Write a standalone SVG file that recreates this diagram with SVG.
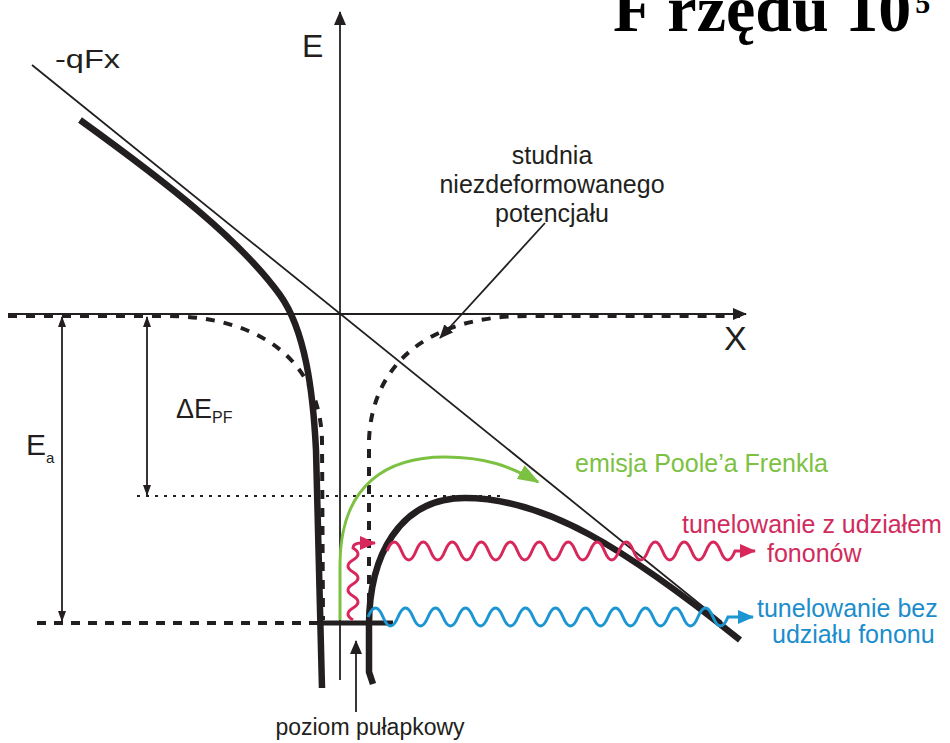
<svg xmlns="http://www.w3.org/2000/svg" width="950" height="743" viewBox="0 0 950 743">
<style>
text{font-family:"Liberation Sans","DejaVu Sans",Arial,sans-serif;fill:#231f20}
.thin{fill:none;stroke:#231f20;stroke-width:1.8}
.thick{fill:none;stroke:#231f20;stroke-width:6.5;stroke-linecap:butt;stroke-linejoin:round}
.dash{fill:none;stroke:#231f20;stroke-width:4;stroke-dasharray:9 9}
.dot{fill:none;stroke:#231f20;stroke-width:1.8;stroke-dasharray:3 6}
.g{fill:none;stroke:#7cc142;stroke-width:3}
.r{fill:none;stroke:#d7275b;stroke-width:3}
.b{fill:none;stroke:#1b96d3;stroke-width:3}
</style>
<defs>
<marker id="ah" markerUnits="userSpaceOnUse" markerWidth="14" markerHeight="12" refX="13" refY="6" orient="auto"><path d="M0,0 L14,6 L0,12 z" fill="#231f20"/></marker>
<marker id="ahs" markerUnits="userSpaceOnUse" markerWidth="11" markerHeight="8" refX="10" refY="4" orient="auto-start-reverse"><path d="M0,0 L11,4 L0,8 z" fill="#231f20"/></marker>
<marker id="ahg" markerUnits="userSpaceOnUse" markerWidth="22" markerHeight="16" refX="20" refY="8" orient="auto"><path d="M0,0 L22,8 L0,16 z" fill="#7cc142"/></marker>
<marker id="ahr" markerUnits="userSpaceOnUse" markerWidth="16" markerHeight="14" refX="15" refY="7" orient="auto"><path d="M0,0 L16,7 L0,14 z" fill="#d7275b"/></marker>
<marker id="ahb" markerUnits="userSpaceOnUse" markerWidth="16" markerHeight="14" refX="15" refY="7" orient="auto"><path d="M0,0 L16,7 L0,14 z" fill="#1b96d3"/></marker>
</defs>

<g id="title"><text x="613" y="31" font-weight="bold" font-size="66" style="font-family:'Liberation Serif','Times New Roman',serif;fill:#000">F rzędu 10<tspan font-size="30" dx="4" y="13">5</tspan></text></g>

<g id="connectors">
<line class="thin" x1="8" y1="314" x2="746" y2="314" marker-end="url(#ah)"/>
<line class="thin" x1="340" y1="680" x2="340" y2="12" marker-end="url(#ah)"/>
<line class="thin" x1="32" y1="65" x2="722" y2="622"/>
<path class="dash" d="M8,316 L165,316 C265,316 320,365 322,440 L323,620"/>
<path class="dash" d="M369,620 L369,440 C372,365 427,316 527,316 L740,316"/>
<line class="dash" x1="37" y1="623" x2="320" y2="623" style="stroke-dasharray:9 8"/>
<line class="dot" x1="137" y1="496" x2="500" y2="496"/>
<line class="thin" x1="62" y1="317" x2="62" y2="621" marker-start="url(#ahs)" marker-end="url(#ahs)"/>
<line class="thin" x1="147" y1="317" x2="147" y2="495" marker-start="url(#ahs)" marker-end="url(#ahs)"/>
<path class="thick" d="M80,120 C170,185 240,240 280,295 C305,330 313,390 316,450 L322,688"/>
<path class="thick" d="M373,684 L369,672 L369,630 C368,555 400,498 465,498 C545,498 625,548 740,640"/>
<line x1="319" y1="623" x2="393" y2="623" stroke="#231f20" stroke-width="5"/>
<line class="thin" x1="545" y1="223" x2="440" y2="338" marker-end="url(#ah)"/>
<line class="thin" x1="356" y1="712" x2="356" y2="641" marker-end="url(#ah)"/>
<path class="g" d="M340,620 L340,565 C340,482 390,457 445,457 C485,457 510,466 538,482" marker-end="url(#ahg)"/>
<path class="r" d="M353,620 q-10,-6 0,-12 t0,-12 t0,-12 t0,-12 t0,-12 t0,-12 q0,-5 8,-5 l14,0" marker-end="url(#ahr)"/>
<path class="r" d="M387,551 q7.25,-18 14.5,0 t14.5,0 t14.5,0 t14.5,0 t14.5,0 t14.5,0 t14.5,0 t14.5,0 t14.5,0 t14.5,0 t14.5,0 t14.5,0 t14.5,0 t14.5,0 t14.5,0 t14.5,0 t14.5,0 t14.5,0 t14.5,0 t14.5,0 t14.5,0 t14.5,0 t14.5,0 t14.5,0 l20,0" marker-end="url(#ahr)"/>
<path class="b" d="M368,617 q7.5,-18 15,0 t15,0 t15,0 t15,0 t15,0 t15,0 t15,0 t15,0 t15,0 t15,0 t15,0 t15,0 t15,0 t15,0 t15,0 t15,0 t15,0 t15,0 t15,0 t15,0 t15,0 t15,0 t15,0 t15,0 l25,0" marker-end="url(#ahb)"/>
</g>

<g id="label-qFx"><text x="55" y="68" font-size="25" textLength="65" lengthAdjust="spacingAndGlyphs">-qFx</text></g>
<g id="label-E"><text x="302" y="57" font-size="32">E</text></g>
<g id="label-X"><text x="724" y="350" font-size="34">X</text></g>
<g id="label-studnia">
<text x="552" y="164" font-size="25" text-anchor="middle">studnia</text>
<text x="552" y="193" font-size="25" text-anchor="middle">niezdeformowanego</text>
<text x="552" y="222" font-size="25" text-anchor="middle">potencjału</text>
</g>
<g id="label-dEPF"><text x="176" y="418" font-size="27">ΔE<tspan font-size="16" dy="5">PF</tspan></text></g>
<g id="label-Ea"><text x="26" y="455" font-size="30">E<tspan font-size="15" dy="8">a</tspan></text></g>
<g id="label-emisja"><text x="575" y="472" font-size="25" style="fill:#7cc142">emisja Poole’a Frenkla</text></g>
<g id="label-tun-z">
<text x="682" y="533" font-size="25" style="fill:#d12b5d">tunelowanie z udziałem</text>
<text x="767" y="562" font-size="25" style="fill:#d12b5d">fononów</text>
</g>
<g id="label-tun-bez">
<text x="757" y="617" font-size="25" style="fill:#1c8dcc">tunelowanie bez</text>
<text x="772" y="643" font-size="25" style="fill:#1c8dcc">udziału fononu</text>
</g>
<g id="label-poziom"><text x="370" y="735" font-size="23" text-anchor="middle">poziom pułapkowy</text></g>
</svg>
